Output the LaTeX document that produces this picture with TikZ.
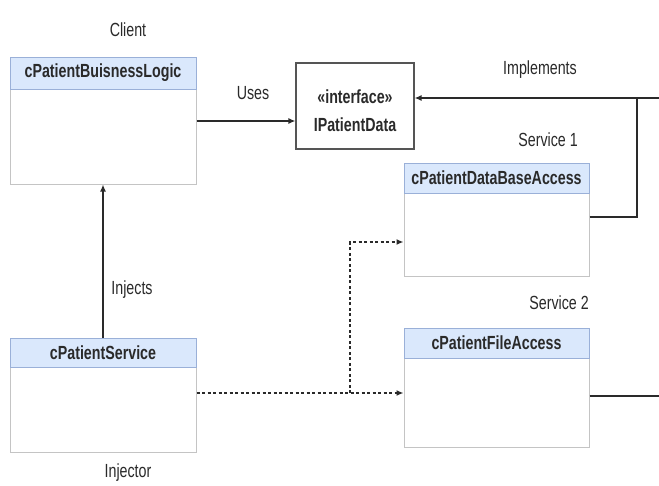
\documentclass[tikz,border=0pt]{standalone}
\usepackage{fontspec}
\setmainfont{Liberation Sans}[FakeStretch=0.75]
\usetikzlibrary{arrows.meta}
\definecolor{hdrfill}{HTML}{DAE8FC}
\definecolor{hdrline}{HTML}{9AB0D8}
\definecolor{boxline}{HTML}{C4C4C4}
\definecolor{ink}{HTML}{2A2A2A}
\tikzset{
  classbox/.style={draw=boxline, line width=1pt, fill=white, inner sep=0pt},
  hdr/.style={draw=hdrline, line width=0.6pt, fill=hdrfill, inner sep=0pt, text=ink,
    font=\fontsize{19}{22}\selectfont\bfseries},
  ibox/.style={draw=ink!80, line width=1.2pt, fill=white, inner sep=0pt, align=center, text=ink,
    font=\fontsize{19}{28}\selectfont\bfseries},
  lbl/.style={text=ink, inner sep=0pt, font=\fontsize{19}{22}\selectfont},
  conn/.style={draw=ink, line width=1.6pt},
  arr/.style={conn, -{Latex[length=7pt,width=6pt]}},
  dsh/.style={draw=ink, line width=1.6pt, dash pattern=on 3pt off 2.5pt},
}
\begin{document}
\begin{tikzpicture}[x=1pt,y=-1pt]
\path[fill=white] (0,0) rectangle (659,485);
\useasboundingbox (0,0) rectangle (659,485);

% class boxes
\node[classbox, minimum width=186, minimum height=127] (bl) at (103,120.5) {};
\node[hdr, minimum width=186, minimum height=32, anchor=north] (blh) at (bl.north) {cPatientBuisnessLogic};

\node[ibox, minimum width=118, minimum height=86] (iface) at (355,106) {\rule{0pt}{24pt}«interface»\\IPatientData};

\node[classbox, minimum width=185, minimum height=113] (db) at (496.5,219.5) {};
\node[hdr, minimum width=185, minimum height=30, anchor=north] (dbh) at (db.north) {cPatientDataBaseAccess};

\node[classbox, minimum width=185, minimum height=119] (fa) at (496.5,387.5) {};
\node[hdr, minimum width=185, minimum height=30, anchor=north] (fah) at (fa.north) {cPatientFileAccess};

\node[classbox, minimum width=186, minimum height=114] (svc) at (103,395) {};
\node[hdr, minimum width=186, minimum height=29, anchor=north] (svch) at (svc.north) {cPatientService};

% labels
\node[lbl] (tclient) at (128,30) {Client};
\node[lbl] (tuses) at (253,93) {Uses};
\node[lbl] (timpl) at (540,70) {Implements};
\node[lbl, anchor=east] (ts1) at (578,140) {Service 1};
\node[lbl, anchor=east] (ts2) at (589,303) {Service 2};
\node[lbl] (tinj) at (132,290) {Injects};
\node[lbl] (tinjr) at (128,473) {Injector};

% coordinates
\coordinate (r1) at (659,98);
\coordinate (j1) at (637,98);
\coordinate (r2) at (659,396);
\coordinate (dj) at (350,393);
\coordinate (dt) at (350,242);

% connectors
\draw[arr] (bl.east |- 0,121) -- (iface.west |- 0,121);
\draw[arr] (r1) -- (iface.east |- r1);
\draw[conn] (db.east |- 0,217) -| (j1);
\draw[conn] (fa.east |- r2) -- (r2);
\draw[arr] (svc.north) -- (bl.south);
\draw[dsh, -{Latex[length=7pt,width=6pt]}] (svc.east |- dj) -- (fa.west |- dj);
\draw[dsh, -{Latex[length=7pt,width=6pt]}] (dj) -- (dt) -- (db.west |- dt);
\end{tikzpicture}
\end{document}
